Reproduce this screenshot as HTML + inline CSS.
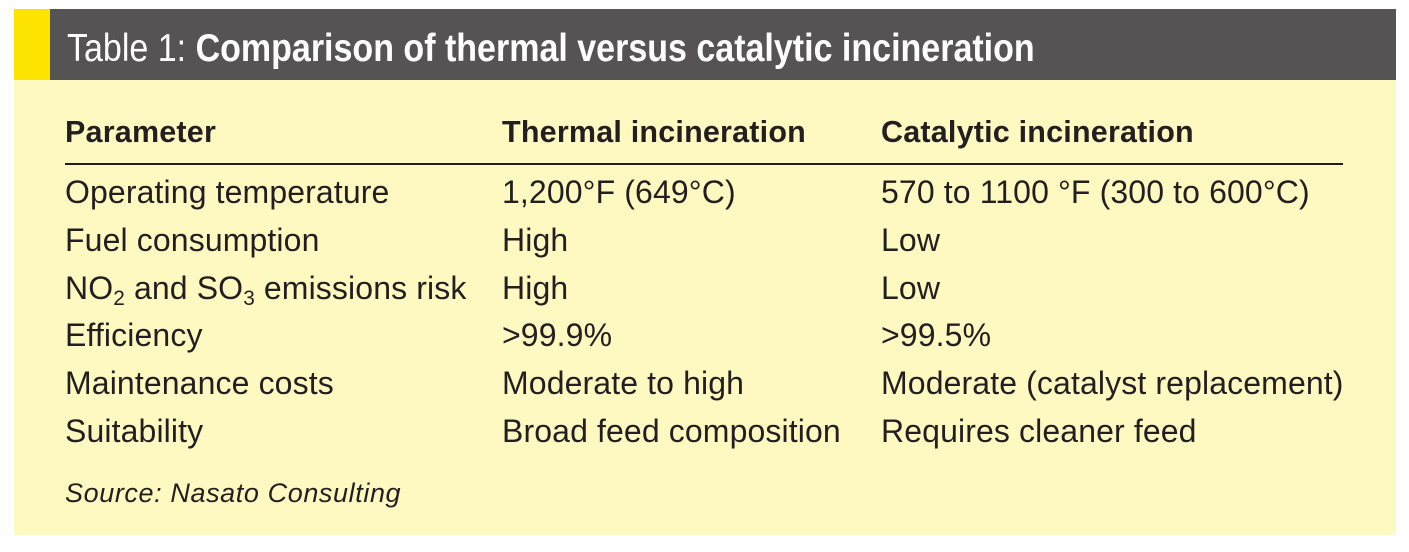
<!DOCTYPE html>
<html><head><style>
body{margin:0;width:1409px;height:552px;background:#fff;position:relative;overflow:hidden;font-family:"Liberation Sans",sans-serif;}
.box{position:absolute;left:14px;top:9px;width:1382px;height:526px;background:#fef9c0;}
.hdr{position:absolute;left:14px;top:9px;width:1382px;height:71px;background:#555354;}
.stripe{position:absolute;left:14px;top:9px;width:36px;height:71px;background:#fde400;}
.t{position:absolute;white-space:nowrap;color:#231f20;font-size:32px;letter-spacing:0.12px;line-height:1;}
.title{position:absolute;left:67px;top:29px;color:#fff;font-size:39px;white-space:nowrap;transform:scaleX(0.872);transform-origin:left top;line-height:1;}
.b{font-weight:bold;font-size:30.5px;letter-spacing:0.2px;}
.rule{position:absolute;left:65px;top:163px;width:1278px;height:1.5px;background:#231f20;}
sub{font-size:0.65em;vertical-align:-0.3em;line-height:0;}
</style></head><body>
<div class="box"></div><div class="hdr"></div><div class="stripe"></div>
<div class="title">Table 1: <b>Comparison of thermal versus catalytic incineration</b></div>
<div class="t b" style="left:65px;top:117px">Parameter</div>
<div class="t b" style="left:502px;top:117px">Thermal incineration</div>
<div class="t b" style="left:881px;top:117px">Catalytic incineration</div>
<div class="rule"></div>
<div class="t" style="left:65px;top:176px">Operating temperature</div>
<div class="t" style="left:502px;top:176px">1,200°F (649°C)</div>
<div class="t" style="left:881px;top:176px">570 to 1100 °F (300 to 600°C)</div>
<div class="t" style="left:65px;top:224px">Fuel consumption</div>
<div class="t" style="left:502px;top:224px">High</div>
<div class="t" style="left:881px;top:224px">Low</div>
<div class="t" style="left:65px;top:272px">NO<sub>2</sub> and SO<sub>3</sub> emissions risk</div>
<div class="t" style="left:502px;top:272px">High</div>
<div class="t" style="left:881px;top:272px">Low</div>
<div class="t" style="left:65px;top:319px">Efficiency</div>
<div class="t" style="left:502px;top:319px">&gt;99.9%</div>
<div class="t" style="left:881px;top:319px">&gt;99.5%</div>
<div class="t" style="left:65px;top:367px">Maintenance costs</div>
<div class="t" style="left:502px;top:367px">Moderate to high</div>
<div class="t" style="left:881px;top:367px">Moderate (catalyst replacement)</div>
<div class="t" style="left:65px;top:415px">Suitability</div>
<div class="t" style="left:502px;top:415px">Broad feed composition</div>
<div class="t" style="left:881px;top:415px">Requires cleaner feed</div>
<div class="t" style="left:65px;top:480px;font-size:27px;letter-spacing:0.6px;font-style:italic">Source: Nasato Consulting</div>
</body></html>
